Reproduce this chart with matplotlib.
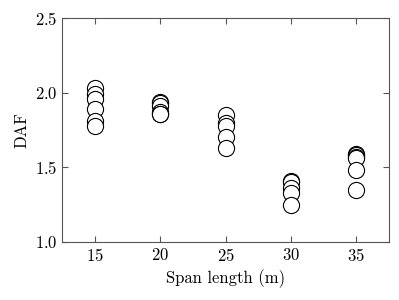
import numpy as np
import matplotlib
matplotlib.use("Agg")
import matplotlib.pyplot as plt

plt.rcParams['font.family'] = 'serif'
plt.rcParams['font.serif'] = ['cmr10']
plt.rcParams['mathtext.fontset'] = 'cm'
plt.rcParams['axes.formatter.use_mathtext'] = True

# DAF values per span length
span = [15, 20, 25, 30, 35]
daf = [
    [2.03, 1.99, 1.96, 1.89, 1.81, 1.78],
    [1.94, 1.93, 1.91, 1.87, 1.86, 1.86],
    [1.85, 1.80, 1.78, 1.70, 1.63],
    [1.41, 1.40, 1.36, 1.33, 1.25],
    [1.59, 1.58, 1.57, 1.56, 1.48, 1.35],
]

fig = plt.figure(figsize=(3.99, 3.0), dpi=100)
ax = fig.add_axes([62/399, 58/300, 327/399, 224/300])

for s, vals in zip(span, daf):
    ax.scatter([s] * len(vals), vals, s=135, facecolors='white',
               edgecolors='black', linewidths=0.8, zorder=3)

ax.set_xlim(12.5, 37.5)
ax.set_ylim(1.0, 2.5)
ax.set_xticks(span)
ax.set_yticks([1.0, 1.5, 2.0, 2.5])
ax.set_xlabel('Span length (m)', fontsize=12)
ax.set_ylabel('DAF', fontsize=12)
ax.tick_params(direction='in', top=True, right=True, labelsize=12,
               color='#555555', length=4)
for sp in ax.spines.values():
    sp.set_color('#555555')

fig.savefig('out.png', dpi=100)
